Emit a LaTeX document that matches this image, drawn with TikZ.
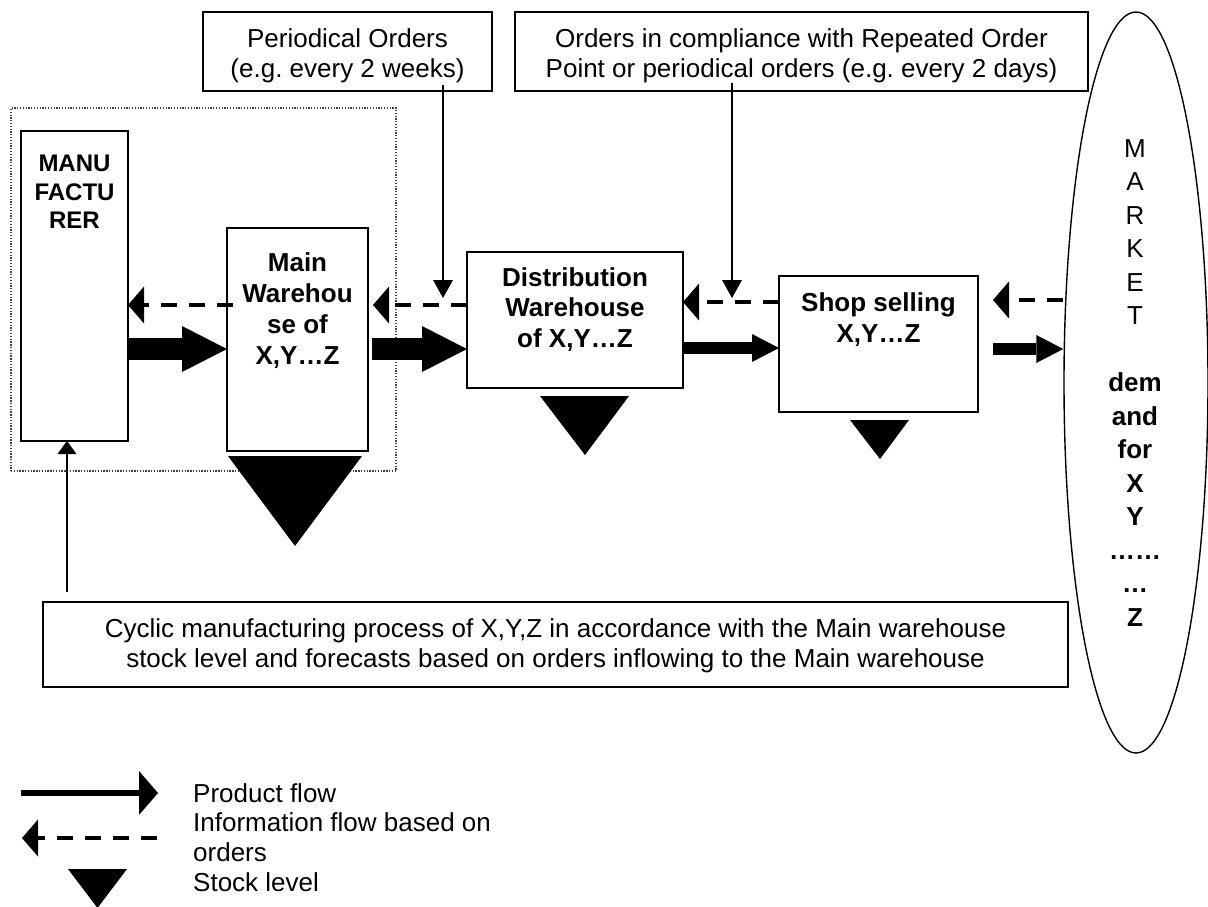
\documentclass[tikz,border=0pt]{standalone}
\usepackage{fontspec}
\setmainfont{Liberation Sans}
\usetikzlibrary{arrows.meta,shapes.geometric,calc}
\frenchspacing
\begin{document}
\begin{tikzpicture}[x=1pt,y=-1pt,
  box/.style={draw, line width=1.4pt, inner sep=0pt, outer sep=0pt, anchor=north west},
  txt/.style={align=center, inner sep=0pt, anchor=base, font=\fontsize{26}{30}\selectfont},
  btxt/.style={align=center, inner sep=0pt, anchor=base, font=\fontsize{26}{30.5}\selectfont\bfseries},
  big/.style={line width=22pt, -{Triangle[length=45pt,width=46pt,line width=0pt]}},
  mid/.style={line width=12.5pt, -{Triangle[length=27pt,width=28pt,line width=0pt]}},
  info/.style={line width=4pt, dash pattern=on 16pt off 12pt, -{Triangle[length=16pt,width=37pt,line width=0pt]}},
  thinarr/.style={line width=1.4pt, -{Triangle[length=18pt,width=20pt,line width=0pt]}},
]
\useasboundingbox (0,0) rectangle (1208,907);

% dotted group
\node[box, draw=black!75, line width=1.1pt, dash pattern=on 1.3pt off 1.5pt, minimum width=385pt, minimum height=363pt] (grp) at (11,108) {};

% boxes
\node[box, minimum width=107pt, minimum height=310pt] (manuf) at (21,131) {};
\node[box, minimum width=141pt, minimum height=223pt] (main) at (227,228) {};
\node[box, minimum width=216pt, minimum height=136pt] (dist) at (467,252) {};
\node[box, minimum width=199pt, minimum height=136pt] (shop) at (779,276) {};
\node[box, minimum width=289pt, minimum height=79pt] (per) at (203,12) {};
\node[box, minimum width=573pt, minimum height=79pt] (rop) at (515,12) {};
\node[box, minimum width=1025pt, minimum height=85pt] (cyc) at (43,602) {};
\node[draw, line width=1.4pt, ellipse, minimum width=144pt, minimum height=741pt, inner sep=0pt] (market) at (1136,382.5) {};

% stock triangles
\fill (228,456) -- (362,456) -- (295,546) -- cycle;
\fill (540,396) -- (629,396) -- (585,455) -- cycle;
\fill (850,420) -- (909,420) -- (880,459) -- cycle;

% texts (anchor = baseline of the last line)
\node[txt] (perT) at (347.5,77.5) {Periodical Orders\\(e.g. every 2 weeks)};
\node[txt] (ropT) at (801.5,77.5) {Orders in compliance with Repeated Order\\Point or periodical orders (e.g. every 2 days)};
\node[btxt, font=\fontsize{24}{28.5}\selectfont\bfseries] (manufT) at (74.5,228.5) {MANU\\FACTU\\RER};
\node[btxt, font=\fontsize{26}{31}\selectfont\bfseries] (mainT) at (297.5,364.3) {Main\\Warehou\\se of\\X,Y…Z};
\node[btxt] (distT) at (575,347.3) {Distribution\\Warehouse\\of X,Y…Z};
\node[btxt, font=\fontsize{26}{31}\selectfont\bfseries] (shopT) at (878.5,342.3) {Shop selling\\X,Y…Z};
\node[txt] (cycT) at (555.5,667) {Cyclic manufacturing process of X,Y,Z in accordance with the Main warehouse\\stock level and forecasts based on orders inflowing to the Main warehouse};
\node[txt, font=\fontsize{26}{33.5}\selectfont] (mktT) at (1135,626.3) {M\\A\\R\\K\\E\\T\\[33.5pt]\textbf{dem}\\\textbf{and}\\\textbf{for}\\\textbf{X}\\\textbf{Y}\\\textbf{……}\\\textbf{…}\\\textbf{Z}};

% product flow
\draw[big] (manuf.east |- 0,349) -- (main.west |- 0,349);
\draw[big] ($(main.east |- 0,349)+(4,0)$) -- (dist.west |- 0,349);
\draw[mid] (dist.east |- 0,348) -- (shop.west |- 0,348);
\draw[mid] ($(shop.east |- 0,349)+(15,0)$) -- (market.west |- 0,349);

% information flow
\draw[info] ($(main.west |- 0,305)+(6,0)$) -- (manuf.east |- 0,305);
\draw[info] (dist.west |- 0,305) -- ($(main.east |- 0,305)+(5,0)$);
\draw[info] (shop.west |- 0,302) -- (dist.east |- 0,302);
\draw[info] (market.west |- 0,300) -- ($(shop.east |- 0,300)+(15,0)$);

% order arrows
\coordinate (t1) at (443,298);
\coordinate (t2) at (732,298);
\draw[thinarr] ($(per.south -| t1)+(0,-6)$) -- (t1);
\draw[thinarr] ($(rop.south -| t2)+(0,-8)$) -- (t2);
\coordinate (ua) at (67,592);
\draw[line width=1.4pt, -{Triangle[length=13pt,width=19pt,line width=0pt]}] (ua) -- (ua |- manuf.south);

% legend
\coordinate (lp1) at (21,793);
\coordinate (lp2) at (158,793);
\draw[line width=6pt, -{Triangle[length=19pt,width=44pt,line width=0pt]}] (lp1) -- (lp2);
\coordinate (li1) at (157,838);
\coordinate (li2) at (22,838);
\draw[info] (li1) -- (li2);
\fill (68,869) -- (127,869) -- (97.5,908) -- cycle;
\node[txt, anchor=base west] (lg1) at (193,802) {Product flow};
\node[txt, anchor=base west] (lg2) at (193,831) {Information flow based on};
\node[txt, anchor=base west] (lg3) at (193,861) {orders};
\node[txt, anchor=base west] (lg4) at (193,891) {Stock level};
\end{tikzpicture}
\end{document}
